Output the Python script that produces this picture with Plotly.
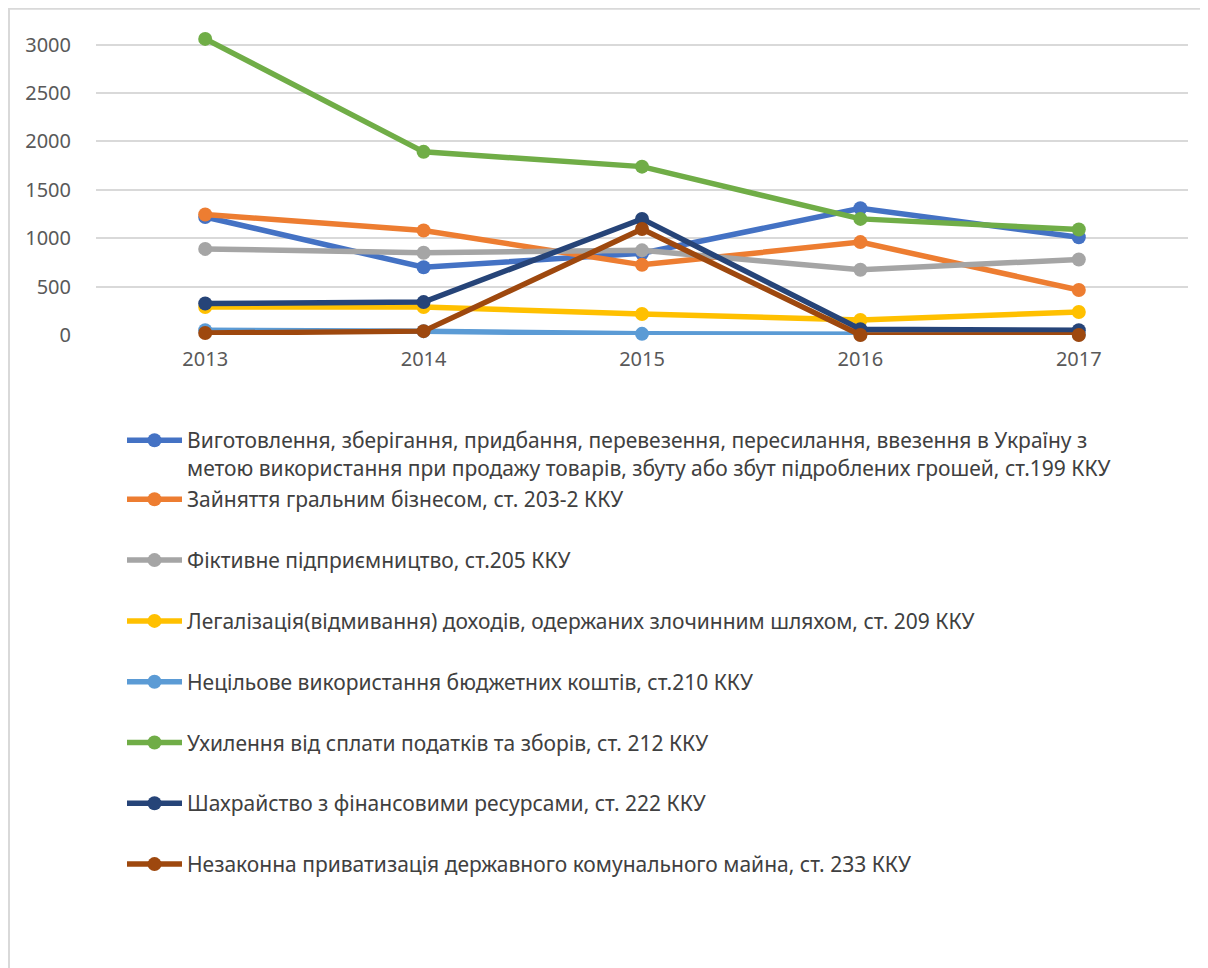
import plotly.graph_objects as go

years = ["2013", "2014", "2015", "2016", "2017"]

names = [
    "Виготовлення, зберігання, придбання, перевезення, пересилання, ввезення в Україну з<br>метою використання при продажу товарів, збуту або збут підроблених грошей, ст.199 ККУ",
    "Зайняття гральним бізнесом, ст. 203-2 ККУ",
    "Фіктивне підприємництво, ст.205 ККУ",
    "Легалізація(відмивання) доходів, одержаних злочинним шляхом, ст. 209 ККУ",
    "Нецільове використання бюджетних коштів, ст.210 ККУ",
    "Ухилення від сплати податків та зборів, ст. 212 ККУ",
    "Шахрайство з фінансовими ресурсами, ст. 222 ККУ",
    "Незаконна приватизація державного комунального майна, ст. 233 ККУ",
]

art199 = [1220, 700, 845, 1310, 1010]
art203 = [1245, 1080, 725, 960, 465]
art205 = [890, 850, 875, 675, 780]
art209 = [290, 290, 217, 155, 238]
art210 = [50, 40, 12, 5, 5]
art212 = [3060, 1893, 1740, 1200, 1090]
art222 = [325, 340, 1200, 60, 50]
art233 = [20, 40, 1095, 0, 0]

series = [art199, art203, art205, art209, art210, art212, art222, art233]
colors = ["#4472C4", "#ED7D31", "#A5A5A5", "#FFC000", "#5B9BD5", "#70AD47", "#264478", "#9E480E"]

W, H = 1200, 960
YMAX = 3090
L, R, B = 88, 1180, 327          # plot box (figure pixels)
T3000 = 37                        # pixel of the 3000 gridline
scale = (B - T3000) / 3000.0
T = B - YMAX * scale


def py(p):
    return (B - p) / (B - T)


def px(p):
    return (p - L) / (R - L)


fig = go.Figure()
for i, (nm, vals, c) in enumerate(zip(names, series, colors)):
    fig.add_trace(go.Scatter(
        x=years, y=vals, name=nm, mode="lines+markers",
        line=dict(color=c, width=5.5),
        marker=dict(color=c, size=14),
        cliponaxis=False,
        legend="legend" if i == 0 else "legend2",
        legendgroup=str(i),
    ))

FONT = "Noto Sans, Liberation Sans, Arial, sans-serif"
legfont = dict(family=FONT, size=21, color="#404040")

fig.update_layout(
    width=W, height=H, showlegend=True,
    margin=dict(l=L, r=W - R, t=T, b=H - B),
    paper_bgcolor="white", plot_bgcolor="white",
    font=dict(family=FONT, color="#595959"),
    xaxis=dict(
        type="category", range=[-0.5, 4.5], showgrid=False, zeroline=False,
        showline=False, ticks="", tickfont=dict(size=20, color="#595959"),
        ticklabelstandoff=10,
    ),
    yaxis=dict(
        range=[0, YMAX], tickvals=[0, 500, 1000, 1500, 2000, 2500, 3000],
        showgrid=True, gridcolor="#D9D9D9", gridwidth=2,
        zeroline=False, showline=False, ticks="",
        tickfont=dict(size=20, color="#595959"), ticklabelstandoff=24,
    ),
    legend=dict(
        x=px(114), y=py(412), xanchor="left", yanchor="top",
        font=legfont, valign="top", bgcolor="rgba(0,0,0,0)",
        itemwidth=55,
    ),
    legend2=dict(
        x=px(114), y=py(471), xanchor="left", yanchor="top",
        font=legfont, valign="top", bgcolor="rgba(0,0,0,0)",
        tracegroupgap=30.5, traceorder="grouped", itemwidth=55,
    ),
    shapes=[dict(
        type="rect", xref="paper", yref="paper",
        x0=px(1), x1=px(1400), y0=py(1100), y1=py(1),
        line=dict(color="#D9D9D9", width=2), fillcolor="rgba(0,0,0,0)", layer="below",
    )],
)

fig.write_html("out.html")
